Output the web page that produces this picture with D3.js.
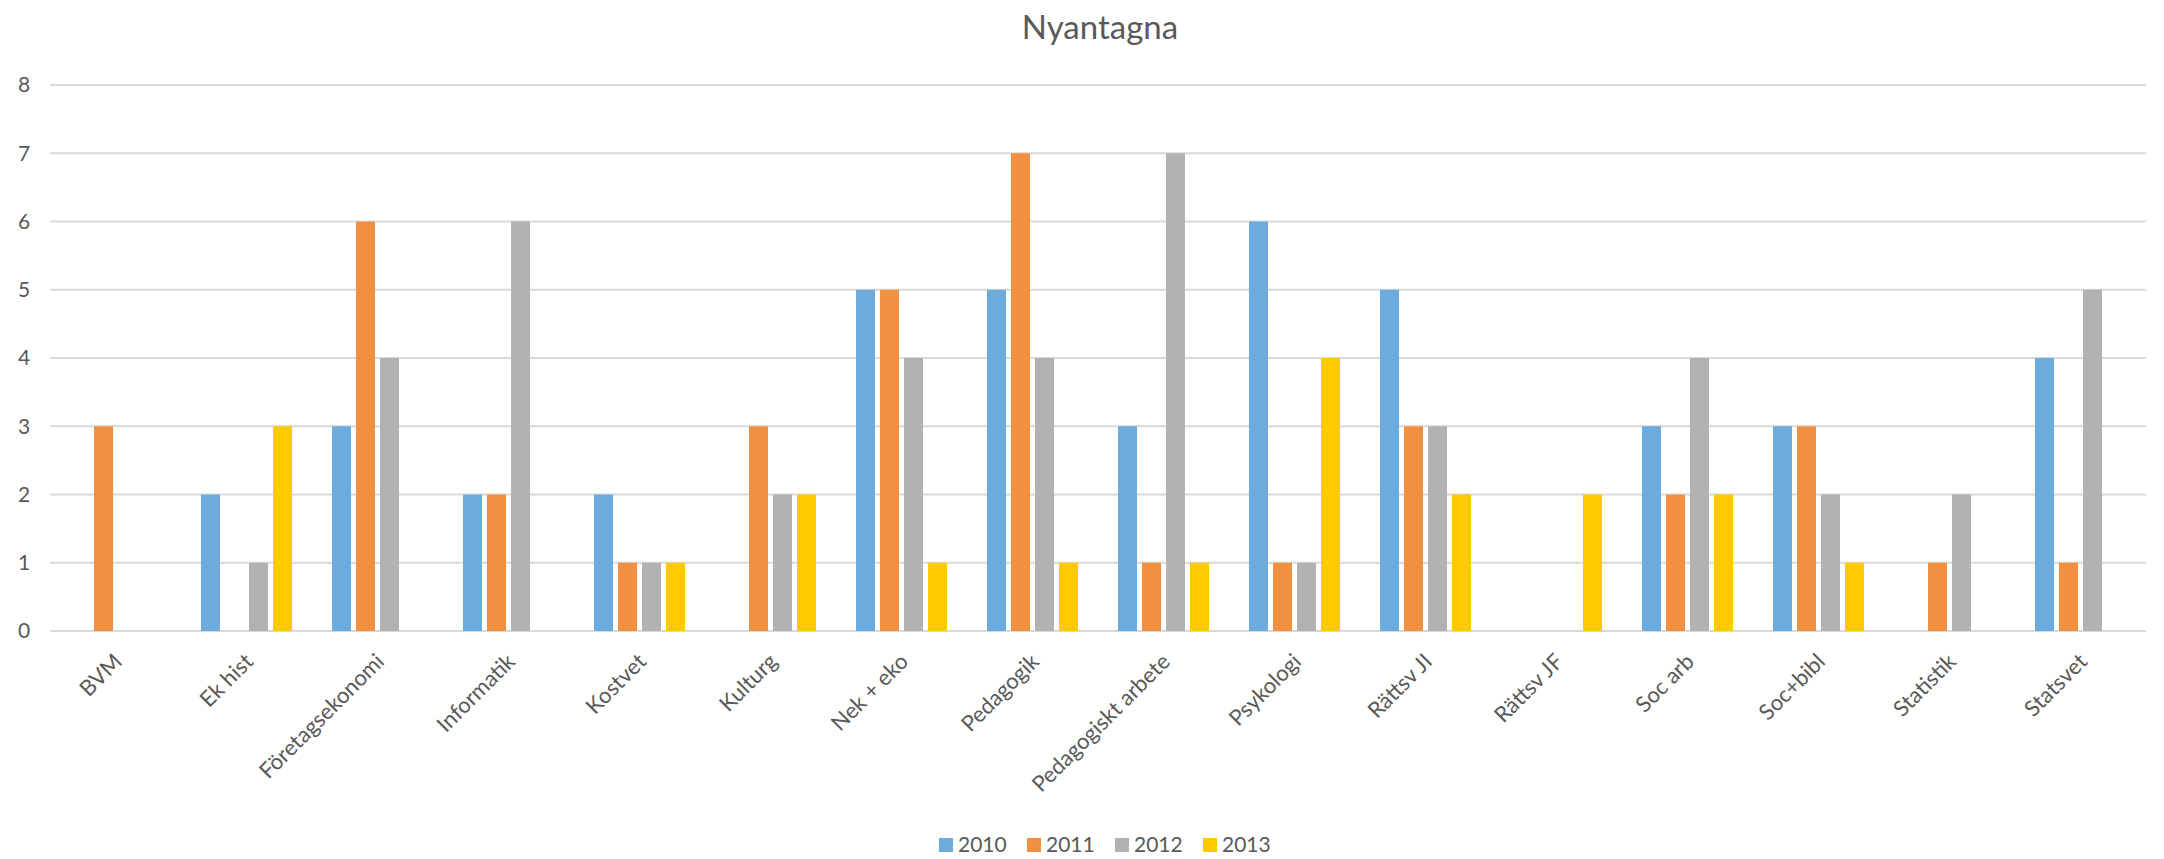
<!DOCTYPE html>
<html>
<head>
<meta charset="utf-8">
<script src="https://cdn.jsdelivr.net/npm/d3@7"></script>
<style>
  body { margin: 0; background: #fff; }
  svg { display: block; font-family: Lato, "Open Sans", sans-serif; }
</style>
</head>
<body>
<div id="chart"></div>
<script>
let categories = ["BVM", "Ek hist", "Företagsekonomi", "Informatik", "Kostvet", "Kulturg",
    "Nek + eko", "Pedagogik", "Pedagogiskt arbete", "Psykologi", "Rättsv JI", "Rättsv JF",
    "Soc arb", "Soc+bibl", "Statistik", "Statsvet"];
let years = ["2010", "2011", "2012", "2013"];
// null = no bar
let v2010 = [null, 2, 3, 2, 2, null, 5, 5, 3, 6, 5, null, 3, 3, null, 4];
let v2011 = [3, null, 6, 2, 1, 3, 5, 7, 1, 1, 3, null, 2, 3, 1, 1];
let v2012 = [null, 1, 4, 6, 1, 2, 4, 4, 7, 1, 3, null, 4, 2, 2, 5];
let v2013 = [null, 3, null, null, 1, 2, 1, 1, 1, 4, 2, 2, 2, 1, null, null];
let yTicks = [0, 1, 2, 3, 4, 5, 6, 7, 8];

let colors = ["#6BABDD", "#F19041", "#B2B2B2", "#FFC900"];
let series = [v2010, v2011, v2012, v2013];

let svgWidth = 2164;
let svgHeight = 859;

let margin = { top: 85, right: 18, bottom: 228, left: 50 };
let width = svgWidth - margin.left - margin.right;
let height = svgHeight - margin.top - margin.bottom;

let svg = d3.select("#chart")
    .append("svg")
    .attr("width", svgWidth)
    .attr("height", svgHeight);

let g = svg.append("g")
    .attr("transform", `translate(${margin.left}, ${margin.top})`);

let x0 = d3.scaleBand()
    .domain(categories)
    .range([0, width])
    .paddingInner(0.267)
    .paddingOuter(0.1335);

let x1 = d3.scaleBand()
    .domain(years)
    .range([0, x0.bandwidth()])
    .paddingInner(0.208)
    .paddingOuter(0.104);

let y = d3.scaleLinear()
    .domain([0, 8])
    .range([height, 0]);

// gridlines
g.selectAll("line.grid")
    .data(yTicks)
    .enter()
    .append("line")
    .attr("class", "grid")
    .attr("x1", 0)
    .attr("x2", width)
    .attr("y1", d => y(d))
    .attr("y2", d => y(d))
    .attr("stroke", "#d9d9d9")
    .attr("stroke-width", 2);

// y labels
g.selectAll("text.ytick")
    .data(yTicks)
    .enter()
    .append("text")
    .attr("class", "ytick")
    .attr("x", -26)
    .attr("y", d => y(d))
    .attr("dy", "0.35em")
    .attr("text-anchor", "middle")
    .attr("fill", "#595959")
    .attr("font-size", 21)
    .text(d => d);

// bars
let rows = [];
categories.forEach((c, i) => {
    years.forEach((yr, j) => {
        if (series[j][i] != null) rows.push({ cat: c, year: yr, value: series[j][i], color: colors[j] });
    });
});

g.selectAll("rect.bar")
    .data(rows)
    .enter()
    .append("rect")
    .attr("class", "bar")
    .attr("x", d => x0(d.cat) + x1(d.year))
    .attr("y", d => y(d.value))
    .attr("width", x1.bandwidth())
    .attr("height", d => y(0) - y(d.value))
    .attr("fill", d => d.color);

// x labels
g.selectAll("text.xtick")
    .data(categories)
    .enter()
    .append("text")
    .attr("class", "xtick")
    .attr("transform", d => `translate(${x0(d) + x0.bandwidth() / 2 + 8}, ${height + 32}) rotate(-45)`)
    .attr("text-anchor", "end")
    .attr("fill", "#595959")
    .attr("font-size", 22)
    .text(d => d);

// title
svg.append("text")
    .attr("x", 1100)
    .attr("y", 39)
    .attr("text-anchor", "middle")
    .attr("fill", "#595959")
    .attr("font-size", 33)
    .text("Nyantagna");

// legend
let legend = svg.append("g")
    .attr("transform", "translate(939, 838)");

let items = legend.selectAll("g")
    .data(years)
    .enter()
    .append("g")
    .attr("transform", (d, i) => `translate(${i * 88}, 0)`);

items.append("rect")
    .attr("width", 14)
    .attr("height", 14)
    .attr("fill", (d, i) => colors[i]);

items.append("text")
    .attr("x", 19)
    .attr("y", 7)
    .attr("dy", "0.35em")
    .attr("fill", "#595959")
    .attr("font-size", 21)
    .text(d => d);
</script>
</body>
</html>
